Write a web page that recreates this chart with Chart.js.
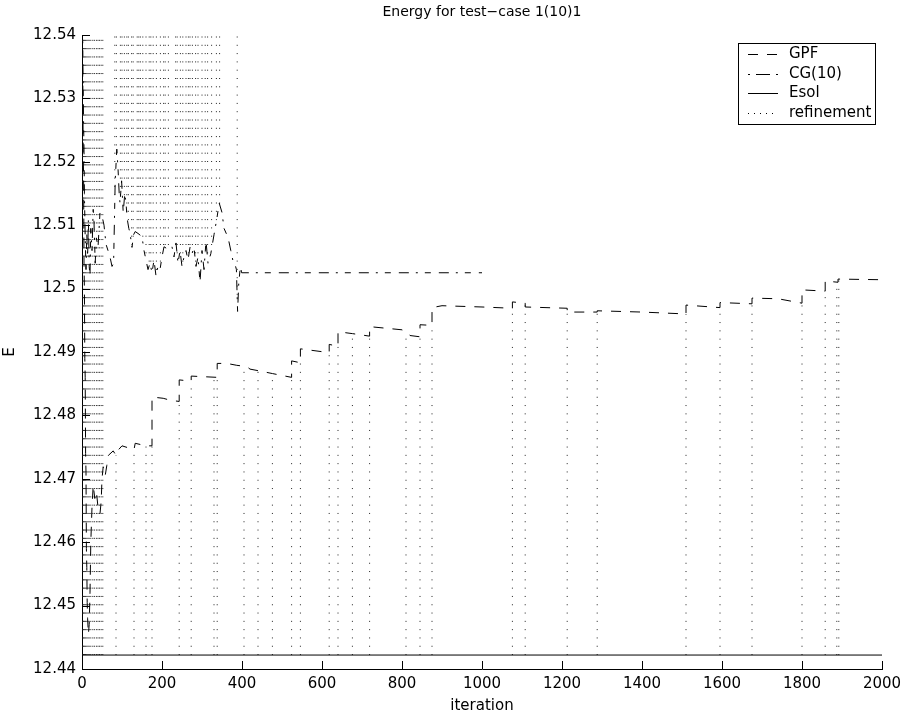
<!DOCTYPE html>
<html>
<head>
<meta charset="utf-8">
<script src="https://cdn.jsdelivr.net/npm/chart.js@4.4.1/dist/chart.umd.min.js"></script>
<style>
  html, body { margin: 0; padding: 0; background: #fff; }
</style>
</head>
<body>
<canvas id="energyChart" width="909" height="718"></canvas>
<script>
// GPF energy per iteration (repeated iteration = jump at a refinement)
const gpfIter = [0, 1, 2, 3, 4, 5, 6, 7, 8, 9, 10, 11, 12, 13, 14, 16, 18, 20, 22, 25,
  28, 32, 36, 40, 45, 48, 50, 53, 58, 62, 66, 78, 85, 90, 100, 130, 133, 160, 175, 175,
  203, 220, 243, 243, 273, 273, 338, 338, 362, 387, 412, 420, 445, 476, 524, 524, 546, 546, 618, 618,
  640, 640, 676, 719, 719, 800, 810, 820, 845, 845, 875, 875, 900, 1000, 1076, 1076, 1108, 1108, 1213, 1213,
  1288, 1288, 1400, 1510, 1510, 1595, 1595, 1675, 1675, 1740, 1800, 1800, 1858, 1858, 1890, 1890, 2000]
const gpfE = [12.550, 12.536, 12.533, 12.521, 12.518, 12.504, 12.500, 12.489, 12.486, 12.474,
  12.471, 12.459, 12.456, 12.4505, 12.4480, 12.4455, 12.4470, 12.4520, 12.4600, 12.4655,
  12.4690, 12.4669, 12.4680, 12.4655, 12.4645, 12.4665, 12.4700, 12.4719, 12.4705, 12.4721,
  12.4737, 12.4744, 12.4737, 12.4745, 12.4752, 12.4746, 12.4756, 12.4752, 12.4752, 12.4829,
  12.4827, 12.4824, 12.4822, 12.4856, 12.4854, 12.4862, 12.4860, 12.4882, 12.4882, 12.4879,
  12.4877, 12.4873, 12.4870, 12.4866, 12.4860, 12.4886, 12.4883, 12.4905, 12.4899, 12.4912,
  12.4909, 12.4932, 12.4929, 12.4925, 12.4940, 12.4935, 12.4932, 12.4926, 12.4924, 12.4943,
  12.4942, 12.4970, 12.4973, 12.4971, 12.4969, 12.4979, 12.4977, 12.4971, 12.4969, 12.4963,
  12.4963, 12.4965, 12.4963, 12.4960, 12.4974, 12.4970, 12.4978, 12.4976, 12.4985, 12.4984,
  12.4977, 12.4998, 12.4996, 12.5012, 12.5010, 12.5015, 12.5014]

// CG(10) energy per iteration
const cgIter = [0, 2, 3, 5, 6, 8, 10, 12, 14, 16, 18, 20, 22, 25, 28, 30, 33, 36, 40, 45,
  50, 55, 60, 65, 70, 75, 79, 83, 87, 90, 93, 95, 99, 103, 107, 110, 113, 117, 120, 125,
  129, 133, 140, 150, 155, 160, 165, 170, 175, 180, 185, 190, 195, 200, 205, 215, 225, 230, 235, 240,
  245, 250, 255, 260, 265, 270, 275, 280, 285, 290, 295, 300, 305, 310, 315, 322, 330, 337, 343, 350,
  355, 362, 367, 372, 377, 382, 386, 389, 392, 396, 399, 1000]
const cgE = [12.548, 12.538, 12.530, 12.522, 12.515, 12.508, 12.503, 12.5085, 12.5050, 12.5110,
  12.5035, 12.5020, 12.5095, 12.5060, 12.5125, 12.5105, 12.5040, 12.5080, 12.5065, 12.5120,
  12.5115, 12.5100, 12.5070, 12.5060, 12.5050, 12.5035, 12.5040, 12.5170, 12.5220, 12.5190,
  12.5150, 12.5135, 12.5170, 12.5120, 12.5150, 12.5135, 12.5110, 12.5095, 12.5088, 12.5065,
  12.5085, 12.5090, 12.5087, 12.5082, 12.5060, 12.5045, 12.5030, 12.5040, 12.5025, 12.5045,
  12.5020, 12.5035, 12.5030, 12.5050, 12.5066, 12.5062, 12.5066, 12.5050, 12.5072, 12.5040,
  12.5060, 12.5035, 12.5050, 12.5060, 12.5045, 12.5065, 12.5055, 12.5065, 12.5035, 12.5050,
  12.5010, 12.5060, 12.5030, 12.5075, 12.5040, 12.5055, 12.5085, 12.5110, 12.5135, 12.5120,
  12.5095, 12.5085, 12.5075, 12.5060, 12.5045, 12.5040, 12.5030, 12.4964, 12.5010, 12.5035,
  12.5025, 12.5025]

// exact solution energy
const esolIter = [0, 2000]
const esolE = 12.4422

// refinement marks (iterations)
const refineTop = 12.545
const startRefIter = [2, 4, 6, 9, 12, 15, 18, 22, 27, 31, 36, 40, 44, 48, 52]
const cgRefIter = [82, 86, 96, 100, 106, 112, 116, 124, 128, 138, 142, 146, 152, 160, 168, 172, 178,
  186, 196, 204, 208, 216, 234, 238, 246, 252, 260, 266, 270, 276, 284, 290, 300, 308, 314, 324, 336, 344, 388]
const gpfRefIter = [85, 130, 160, 175, 243, 273, 330, 338, 405, 440, 476, 524, 546, 618, 640, 676, 719,
  810, 845, 875, 1076, 1108, 1213, 1288, 1510, 1595, 1675, 1800, 1858, 1887, 1892]

// axes
const xTicks = [0, 200, 400, 600, 800, 1000, 1200, 1400, 1600, 1800, 2000]
const yTicks = [12.44, 12.45, 12.46, 12.47, 12.48, 12.49, 12.5, 12.51, 12.52, 12.53, 12.54]
const yTickLabels = ['12.44', '12.45', '12.46', '12.47', '12.48', '12.49', '12.5', '12.51', '12.52', '12.53', '12.54']
const legendLabels = ['GPF', 'CG(10)', 'Esol', 'refinement']

const GPF_DASH = [10, 9]
const CG_DASH = [10, 7, 2, 7, 6, 8]
const DOT_DASH = [1, 7.3]

const toPoints = (xs, ys) => xs.map((x, i) => ({x: x, y: ys[i]}))

// value of a series at an iteration (first match = value before a jump)
const valueAt = (xs, ys, it) => {
  for (let k = 0; k < xs.length; k++) {
    if (xs[k] === it) return ys[k]
    if (xs[k] > it) {
      const t = (it - xs[k - 1]) / (xs[k] - xs[k - 1])
      return ys[k - 1] + t * (ys[k] - ys[k - 1])
    }
  }
  return ys[ys.length - 1]
}

const refineData = []
startRefIter.forEach(it => refineData.push({x: it, y: esolE}, {x: it, y: refineTop}, {x: it, y: null}))
gpfRefIter.forEach(it => refineData.push({x: it, y: esolE}, {x: it, y: valueAt(gpfIter, gpfE, it)}, {x: it, y: null}))
cgRefIter.forEach(it => refineData.push({x: it, y: refineTop}, {x: it, y: valueAt(cgIter, cgE, it)}, {x: it, y: null}))

// matlab style ticks pointing into the axes
const inwardTicks = {
  id: 'inwardTicks',
  afterDatasetsDraw(chart) {
    const {ctx, chartArea, scales} = chart
    ctx.save()
    ctx.strokeStyle = '#000'
    ctx.lineWidth = 1
    ctx.setLineDash([])
    ctx.beginPath()
    xTicks.forEach(v => {
      const px = Math.round(scales.x.getPixelForValue(v)) + 0.5
      ctx.moveTo(px, chartArea.bottom)
      ctx.lineTo(px, chartArea.bottom - 8)
    })
    yTicks.forEach(v => {
      const py = Math.round(scales.y.getPixelForValue(v)) + 0.5
      ctx.moveTo(chartArea.left, py)
      ctx.lineTo(chartArea.left + 8, py)
    })
    ctx.stroke()
    ctx.restore()
  }
}

// boxed legend in the top right corner
const boxLegend = {
  id: 'boxLegend',
  afterDraw(chart) {
    const {ctx, chartArea} = chart
    const right = chartArea.right - 7
    const left = right - 137
    const top = chartArea.top + 8
    const bottom = top + 81
    const dashes = [GPF_DASH, [2, 6, 14, 6, 2], [], [1, 5]]
    ctx.save()
    ctx.fillStyle = '#fff'
    ctx.fillRect(left, top, right - left, bottom - top)
    ctx.strokeStyle = '#000'
    ctx.lineWidth = 1
    ctx.strokeRect(left + 0.5, top + 0.5, right - left, bottom - top)
    ctx.font = '15px "DejaVu Sans"'
    ctx.fillStyle = '#000'
    ctx.textBaseline = 'middle'
    legendLabels.forEach((label, i) => {
      const y = Math.round(top + 11 + i * 19.7) + 0.5
      ctx.setLineDash(dashes[i])
      ctx.beginPath()
      ctx.moveTo(left + 10, y)
      ctx.lineTo(left + 40, y)
      ctx.stroke()
      ctx.fillText(label, left + 51, y)
    })
    ctx.restore()
  }
}

Chart.defaults.font.family = '"DejaVu Sans", sans-serif'
Chart.defaults.font.size = 15
Chart.defaults.color = '#000'

const ctx = document.getElementById('energyChart').getContext('2d')

new Chart(ctx, {
  type: 'line',
  data: {
    datasets: [
      {
        label: 'GPF',
        data: toPoints(gpfIter, gpfE),
        borderColor: '#000',
        borderWidth: 1,
        borderDash: GPF_DASH,
        pointRadius: 0,
        tension: 0,
        fill: false
      },
      {
        label: 'CG(10)',
        data: toPoints(cgIter, cgE),
        borderColor: '#000',
        borderWidth: 1,
        borderDash: CG_DASH,
        pointRadius: 0,
        tension: 0,
        fill: false
      },
      {
        label: 'Esol',
        data: esolIter.map(x => ({x: x, y: esolE})),
        borderColor: '#000',
        borderWidth: 1,
        pointRadius: 0,
        fill: false
      },
      {
        label: 'refinement',
        data: refineData,
        borderColor: '#222',
        borderWidth: 1,
        borderDash: DOT_DASH,
        pointRadius: 0,
        spanGaps: false,
        fill: false
      }
    ]
  },
  options: {
    responsive: false,
    animation: false,
    devicePixelRatio: 1,
    parsing: true,
    layout: {
      padding: {left: 0, right: 27, top: 0, bottom: 0}
    },
    plugins: {
      legend: {display: false},
      tooltip: {enabled: false},
      title: {
        display: true,
        fullSize: false,
        text: 'Energy for test−case 1(10)1',
        color: '#000',
        font: {size: 14, weight: 'normal'},
        padding: {top: 4, bottom: 14.2}
      }
    },
    scales: {
      x: {
        type: 'linear',
        min: 0,
        max: 2000,
        afterFit: s => { s.height = 49 },
        afterBuildTicks: s => { s.ticks = xTicks.map(v => ({value: v})) },
        grid: {display: false, drawTicks: false},
        border: {display: true, color: '#000', width: 1},
        ticks: {
          autoSkip: false,
          maxRotation: 0,
          padding: 6,
          callback: v => String(v)
        },
        title: {
          display: true,
          text: 'iteration',
          padding: {top: 0, bottom: 3}
        }
      },
      y: {
        type: 'linear',
        min: 12.44,
        max: 12.54,
        afterFit: s => { s.width = 82 },
        afterBuildTicks: s => { s.ticks = yTicks.map(v => ({value: v})) },
        grid: {display: false, drawTicks: false},
        border: {display: true, color: '#000', width: 1},
        ticks: {
          autoSkip: false,
          padding: 6,
          callback: (v, i) => yTickLabels[i]
        },
        title: {
          display: true,
          text: 'E',
          padding: {top: 1, bottom: 0}
        }
      }
    }
  },
  plugins: [inwardTicks, boxLegend]
})
</script>
</body>
</html>
